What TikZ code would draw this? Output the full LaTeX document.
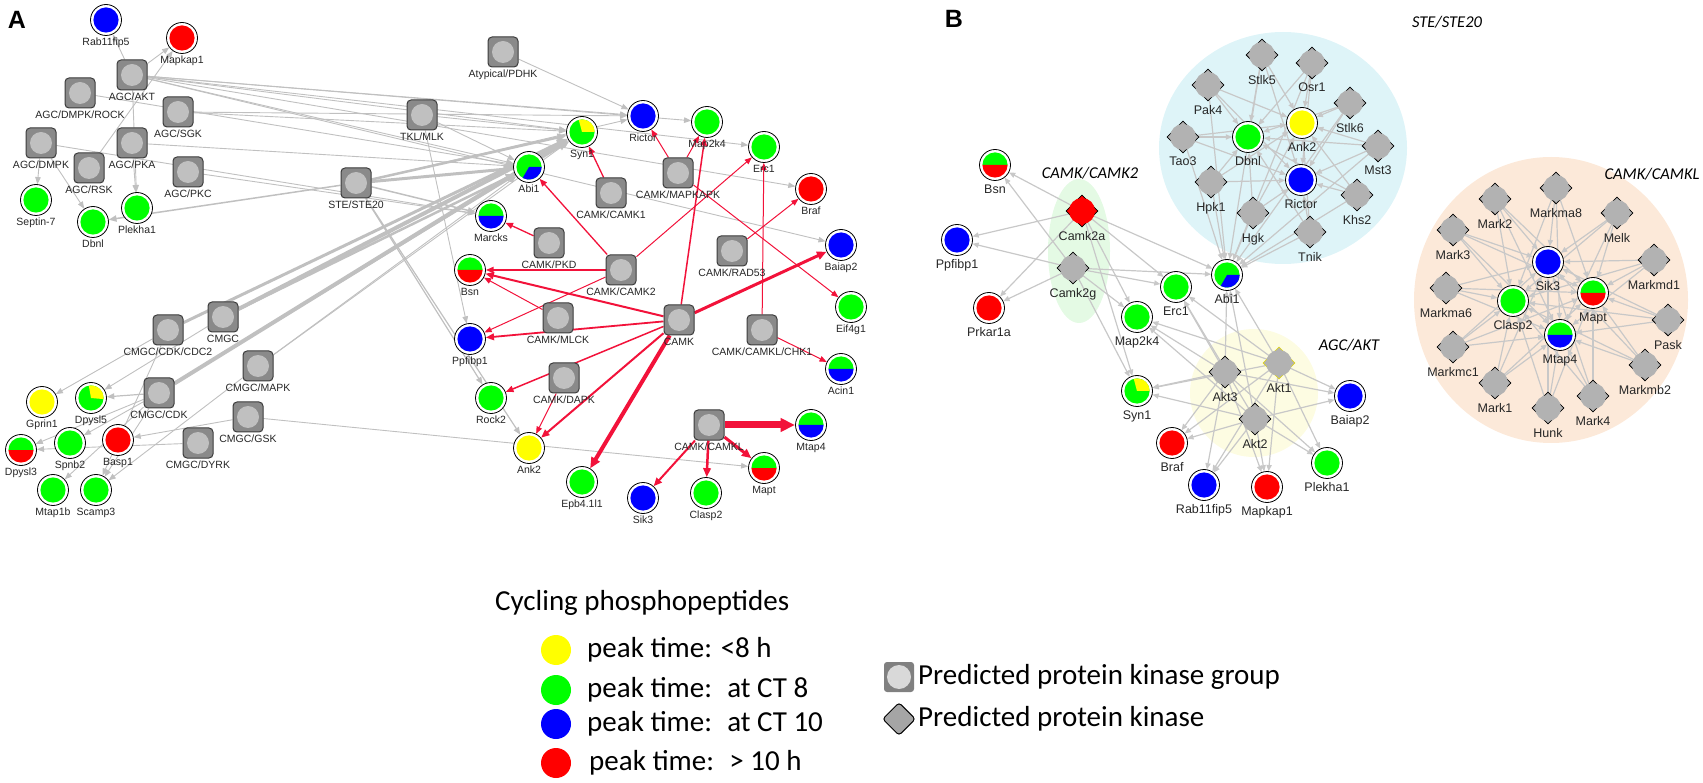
\documentclass[tikz,border=0pt]{standalone}
\usepackage{fontspec}
\setmainfont{Liberation Sans}
\newfontfamily\calibri{Carlito}
\usetikzlibrary{shapes.geometric,arrows.meta}

\definecolor{pyellow}{RGB}{255,255,0}
\definecolor{pgreen}{RGB}{0,255,0}
\definecolor{pblue}{RGB}{0,0,255}
\definecolor{pred}{RGB}{255,0,0}
\definecolor{kfill}{RGB}{138,138,138}
\definecolor{kcirc}{RGB}{192,192,192}
\definecolor{kedge}{RGB}{60,60,60}
\definecolor{dgray}{RGB}{178,178,178}
\definecolor{egray}{RGB}{192,192,192}
\definecolor{bgray}{RGB}{200,200,200}
\definecolor{ered}{RGB}{242,18,58}
\definecolor{steblue}{RGB}{222,244,248}
\definecolor{camkgreen}{RGB}{228,250,228}
\definecolor{aktyellow}{RGB}{253,252,226}
\definecolor{camklorange}{RGB}{252,233,217}
\definecolor{lgrpfill}{RGB}{128,128,128}
\definecolor{lgrpcirc}{RGB}{217,217,217}
\definecolor{lkinfill}{RGB}{165,165,165}

\pgfdeclarelayer{back}
\pgfdeclarelayer{edges}
\pgfsetlayers{back,edges,main}

\begin{document}
\begin{tikzpicture}[x=1pt, y=-1pt, label distance=1pt,
        grp/.style={rectangle, rounded corners=4pt, draw=kedge, line width=1pt, fill=kfill,
            minimum size=30pt, inner sep=0pt,
            path picture={\fill[kcirc] (path picture bounding box.center) circle[radius=11pt];}},
        pep/.style={circle, draw=black, line width=0.8pt, fill=white, minimum size=31pt, inner sep=0pt},
        pepone/.style={pep, path picture={\fill[#1] (path picture bounding box.center) circle[radius=12.6pt];}},
        peptwo/.style 2 args={pep, path picture={
            \fill[#1] (path picture bounding box.center) ++(12.6pt,0pt) arc[start angle=0, end angle=180, radius=12.6pt] -- cycle;
            \fill[#2] (path picture bounding box.center) ++(-12.6pt,0pt) arc[start angle=180, end angle=360, radius=12.6pt] -- cycle;}},
        pepwedge/.style n args={4}{pep, path picture={
            \fill[#1] (path picture bounding box.center) circle[radius=12.6pt];
            \fill[#2] (path picture bounding box.center) -- ++(#3:12.6pt) arc[start angle=#3, end angle=#4, radius=12.6pt] -- cycle;}},
        kin/.style={diamond, draw=black, line width=0.8pt, fill=dgray, minimum size=32pt, inner sep=0pt},
        la/.style={font=\fontsize{10.5}{12}\selectfont, inner sep=1pt, text=black!85},
        lb/.style={font=\fontsize{12.5}{14}\selectfont, inner sep=1pt, text=black!85, yshift=-1.5pt},
        ttl/.style={font=\calibri\itshape\fontsize{16.5}{19}\selectfont, inner sep=0pt},
        leg/.style={font=\calibri\fontsize{29}{34}\selectfont, anchor=west, inner sep=0pt},
        ge/.style={draw=egray, line width=#1, -{Triangle[length=6pt 1.2, width=4.5pt 1.2]}}, ge/.default=0.9pt,
        re/.style={draw=ered, line width=#1, -{Triangle[length=6pt 1.2, width=4.5pt 1.2]}}, re/.default=1pt,
        be/.style={draw=bgray, line width=1.2pt, -{Triangle[length=5pt 1, width=4pt 1]}}]

\useasboundingbox (0,0) rectangle (1703,783);

\node[font=\bfseries\fontsize{25}{30}\selectfont] (pA) at (17,20) {A};
\node[font=\bfseries\fontsize{25}{30}\selectfont] (pB) at (954,19) {B};

% A: predicted kinase groups
\node[grp, label={[la]below:AGC/AKT}] (aakt) at (132,75) {};
\node[grp, label={[la]below:AGC/DMPK/ROCK}] (arock) at (80,93) {};
\node[grp, label={[la]below:AGC/SGK}] (asgk) at (178,112) {};
\node[grp, label={[la]below:AGC/DMPK}] (admpk) at (41,143) {};
\node[grp, label={[la]below:AGC/PKA}] (apka) at (132,143) {};
\node[grp, label={[la]below:AGC/RSK}] (arsk) at (89,168) {};
\node[grp, label={[la]below:AGC/PKC}] (apkc) at (188,172) {};
\node[grp, label={[la]below:TKL/MLK}] (tkl) at (422,115) {};
\node[grp, label={[la]below:STE/STE20}] (ste) at (356,183) {};
\node[grp, label={[la]below:Atypical/PDHK}] (atyp) at (503,52) {};
\node[grp, label={[la]below:CAMK/CAMK1}] (camk1) at (611,193) {};
\node[grp, label={[la]below:CAMK/MAPKAPK}] (mapkapk) at (678,173) {};
\node[grp, label={[la]below:CAMK/PKD}] (pkd) at (549,243) {};
\node[grp, label={[la]below:CAMK/CAMK2}] (camk2) at (621,270) {};
\node[grp, label={[la]below:CAMK/RAD53}] (rad53) at (732,251) {};
\node[grp, label={[la]below:CAMK/MLCK}] (mlck) at (558,318) {};
\node[grp, label={[la]below:CAMK}] (camk) at (679,320) {};
\node[grp, label={[la]below:CAMK/CAMKL/CHK1}] (chk1) at (762,330) {};
\node[grp, label={[la]below:CAMK/DAPK}] (dapk) at (564,378) {};
\node[grp, label={[la]below:CAMK/CAMKL}] (camkl) at (709,425) {};
\node[grp, label={[la]below:CMGC/CDK/CDC2}] (cdc2) at (168,330) {};
\node[grp, label={[la]below:CMGC}] (cmgc) at (223,317) {};
\node[grp, label={[la]below:CMGC/MAPK}] (mapk) at (258,366) {};
\node[grp, label={[la]below:CMGC/CDK}] (cdk) at (159,393) {};
\node[grp, label={[la]below:CMGC/GSK}] (gsk) at (248,417) {};
\node[grp, label={[la]below:CMGC/DYRK}] (dyrk) at (198,443) {};

% A: cycling phosphopeptides
\node[pepone=pblue, label={[la]below:Rab11fip5}] (rabA) at (106,20) {};
\node[pepone=pred, label={[la]below:Mapkap1}] (mapkapA) at (182,38) {};
\node[pepone=pgreen, label={[la]below:Septin-7}] (septin) at (36,200) {};
\node[pepone=pgreen, label={[la]below:Dbnl}] (dbnlA) at (93,222) {};
\node[pepone=pgreen, label={[la]below:Plekha1}] (plekhaA) at (137,208) {};
\node[pepone=pblue, label={[la]below:Rictor}] (rictorA) at (643,116) {};
\node[pepone=pgreen, label={[la]below:Map2k4}] (map2k4A) at (707,122) {};
\node[pepwedge={pgreen}{pyellow}{0}{105}, label={[la]below:Syn1}] (syn1A) at (582,132) {};
\node[pepone=pgreen, label={[la]below:Erc1}] (erc1A) at (764,147) {};
\node[pepwedge={pgreen}{pblue}{-120}{0}, label={[la]below:Abi1}] (abi1A) at (529,167) {};
\node[peptwo={pgreen}{pblue}, label={[la]below:Marcks}] (marcksA) at (491,216) {};
\node[pepone=pred, label={[la]below:Braf}] (brafA) at (811,189) {};
\node[pepone=pblue, label={[la]below:Baiap2}] (baiap2A) at (841,245) {};
\node[peptwo={pgreen}{pred}, label={[la]below:Bsn}] (bsnA) at (470,270) {};
\node[pepone=pblue, label={[la]below:Ppfibp1}] (ppfibpA) at (470,339) {};
\node[pepone=pgreen, label={[la]below:Eif4g1}] (eif4g1) at (851,307) {};
\node[peptwo={pgreen}{pblue}, label={[la]below:Acin1}] (acin1) at (841,369) {};
\node[pepone=pgreen, label={[la]below:Rock2}] (rock2) at (491,398) {};
\node[pepone=pyellow, label={[la]below:Ank2}] (ank2A) at (529,448) {};
\node[peptwo={pgreen}{pblue}, label={[la]below:Mtap4}] (mtap4A) at (811,425) {};
\node[peptwo={pgreen}{pred}, label={[la]below:Mapt}] (maptA) at (764,468) {};
\node[pepone=pgreen, label={[la]below:Epb4.1l1}] (epb) at (582,482) {};
\node[pepone=pblue, label={[la]below:Sik3}] (sik3A) at (643,498) {};
\node[pepone=pgreen, label={[la]below:Clasp2}] (clasp2A) at (706,493) {};
\node[pepone=pyellow, label={[la]below:Gprin1}] (gprin1) at (42,402) {};
\node[pepwedge={pgreen}{pyellow}{-5}{100}, label={[la]below:Dpysl5}] (dpysl5) at (91,398) {};
\node[peptwo={pgreen}{pred}, label={[la]below:Dpysl3}] (dpysl3) at (21,450) {};
\node[pepone=pgreen, label={[la]below:Spnb2}] (spnb2) at (70,443) {};
\node[pepone=pred, label={[la]below:Basp1}] (basp1) at (118,440) {};
\node[pepone=pgreen, label={[la]below:Mtap1b}] (mtap1b) at (53,490) {};
\node[pepone=pgreen, label={[la]below:Scamp3}] (scamp3) at (96,490) {};

% B: kinase families
\begin{pgfonlayer}{back}
\fill[steblue] (1283,148) ellipse[x radius=124, y radius=116];
\fill[camkgreen] (1079,251) ellipse[x radius=31, y radius=72];
\fill[aktyellow] (1254,393) circle[radius=64];
\fill[camklorange] (1551,300) ellipse[x radius=137, y radius=143];
\end{pgfonlayer}
\node[ttl] (tste) at (1447,22) {STE/STE20};
\node[ttl] (tcamk2) at (1090,173) {CAMK/CAMK2};
\node[ttl] (takt) at (1349,345) {AGC/AKT};
\node[ttl] (tcamkl) at (1652,174) {CAMK/CAMKL};

% B: predicted kinases
\node[kin, label={[lb]below:Stlk5}] (stlk5) at (1262,55) {};
\node[kin, label={[lb]below:Osr1}] (osr1) at (1312,63) {};
\node[kin, label={[lb]below:Pak4}] (pak4) at (1208,85) {};
\node[kin, label={[lb]below:Tao3}] (tao3) at (1183,137) {};
\node[kin, label={[lb]below:Hpk1}] (hpk1) at (1211,182) {};
\node[kin, label={[lb]below:Hgk}] (hgk) at (1253,213) {};
\node[kin, label={[lb]below:Stlk6}] (stlk6) at (1350,103) {};
\node[kin, label={[lb]below:Mst3}] (mst3) at (1378,146) {};
\node[kin, label={[lb]below:Khs2}] (khs2) at (1357,195) {};
\node[kin, label={[lb]below:Tnik}] (tnik) at (1310,232) {};
\node[kin, fill=pred, label={[lb]below:Camk2a}] (camk2a) at (1082,211) {};
\node[kin, label={[lb]below:Camk2g}] (camk2g) at (1073,268) {};
\node[kin, label={[lb]below:Akt3}] (akt3) at (1225,372) {};
\node[kin, draw=yellow!85!black, label={[lb]below:Akt1}] (akt1) at (1279,363) {};
\node[kin, label={[lb]below:Akt2}] (akt2) at (1255,419) {};
\node[kin, label={[lb]below:Markma8}] (markma8) at (1556,188) {};
\node[kin, label={[lb]below:Mark2}] (mark2) at (1495,199) {};
\node[kin, label={[lb]below:Melk}] (melk) at (1617,213) {};
\node[kin, label={[lb]below:Mark3}] (mark3) at (1453,230) {};
\node[kin, label={[lb]below:Markmd1}] (markmd1) at (1654,260) {};
\node[kin, label={[lb]below:Markma6}] (markma6) at (1446,288) {};
\node[kin, label={[lb]below:Pask}] (pask) at (1668,320) {};
\node[kin, label={[lb]below:Markmc1}] (markmc1) at (1453,347) {};
\node[kin, label={[lb]below:Markmb2}] (markmb2) at (1645,365) {};
\node[kin, label={[lb]below:Mark1}] (mark1) at (1495,383) {};
\node[kin, label={[lb]below:Mark4}] (mark4) at (1593,396) {};
\node[kin, label={[lb]below:Hunk}] (hunk) at (1548,408) {};
\foreach \kn in {stlk5,osr1,pak4,tao3,hpk1,hgk,stlk6,mst3,khs2,tnik,camk2g,akt1,akt2,akt3,
        markma8,mark2,melk,mark3,markmd1,markma6,pask,markmc1,markmb2,mark1,mark4,hunk}
    \fill[dgray] (\kn.center) circle[radius=13pt];
\fill[pred] (camk2a.center) circle[radius=13pt];

% B: cycling phosphopeptides
\node[peptwo={pgreen}{pred}, label={[lb]below:Bsn}] (bsnB) at (995,165) {};
\node[pepone=pblue, label={[lb]below:Ppfibp1}] (ppfibpB) at (957,240) {};
\node[pepone=pred, label={[lb]below:Prkar1a}] (prkar) at (989,308) {};
\node[pepone=pgreen, label={[lb]below:Dbnl}] (dbnlB) at (1248,137) {};
\node[pepone=pyellow, label={[lb]below:Ank2}] (ank2B) at (1302,123) {};
\node[pepone=pblue, label={[lb]below:Rictor}] (rictorB) at (1301,180) {};
\node[pepwedge={pgreen}{pblue}{-120}{0}, label={[lb]below:Abi1}] (abi1B) at (1227,275) {};
\node[pepone=pgreen, label={[lb]below:Erc1}] (erc1B) at (1176,287) {};
\node[pepone=pgreen, label={[lb]below:Map2k4}] (map2k4B) at (1137,317) {};
\node[pepwedge={pgreen}{pyellow}{0}{105}, label={[lb]below:Syn1}] (syn1B) at (1137,391) {};
\node[pepone=pred, label={[lb]below:Braf}] (brafB) at (1172,443) {};
\node[pepone=pblue, label={[lb]below:Rab11fip5}] (rabB) at (1204,485) {};
\node[pepone=pred, label={[lb]below:Mapkap1}] (mapkapB) at (1267,487) {};
\node[pepone=pgreen, label={[lb]below:Plekha1}] (plekhaB) at (1327,463) {};
\node[pepone=pblue, label={[lb]below:Baiap2}] (baiap2B) at (1350,396) {};
\node[pepone=pblue, label={[lb]below:Sik3}] (sik3B) at (1548,262) {};
\node[peptwo={pgreen}{pred}, label={[lb]below:Mapt}] (maptB) at (1593,293) {};
\node[pepone=pgreen, label={[lb]below:Clasp2}] (clasp2B) at (1513,301) {};
\node[peptwo={pgreen}{pblue}, label={[lb]below:Mtap4}] (mtap4B) at (1560,335) {};

% connectors
\begin{pgfonlayer}{edges}
\foreach \src/\dst/\wd in {aakt/mapkapA/0.9, aakt/rabA/0.9, aakt/plekhaA/0.9, aakt/rictorA/0.9,
        aakt/syn1A/0.9, aakt/abi1A/0.9, aakt/map2k4A/0.9, aakt/erc1A/0.9, aakt/brafA/0.9,
        aakt/baiap2A/0.9, arsk/mapkapA/0.9, admpk/septin/0.9, admpk/dbnlA/0.9, admpk/marcksA/0.9,
        arock/abi1A/0.9, asgk/rictorA/0.9, asgk/syn1A/0.9, apka/plekhaA/0.9, apka/abi1A/0.9,
        apkc/marcksA/0.9, tkl/abi1A/0.9, tkl/syn1A/0.9, tkl/ppfibpA/0.9,
        ste/abi1A/3, ste/syn1A/2.5, ste/rictorA/0.9, ste/dbnlA/1.5, ste/marcksA/1.5,
        ste/rock2/1.2, ste/ank2A/1.2, atyp/rictorA/0.9,
        cdc2/gprin1/0.9, cdc2/syn1A/3, cdc2/scamp3/0.9, cmgc/syn1A/4, cmgc/abi1A/2.5,
        cmgc/dpysl5/0.9, cdk/dpysl5/1.2, cdk/dpysl3/0.9, cdk/spnb2/0.9, cdk/mtap1b/0.9,
        cdk/scamp3/0.9, cdk/syn1A/4, cdk/abi1A/1.5, mapk/abi1A/0.9, mapk/scamp3/0.9,
        mapk/syn1A/0.9, gsk/basp1/0.9, gsk/maptA/0.9, dyrk/dpysl3/0.9}
    \draw[ge=\wd pt] (\src) -- (\dst);
\foreach \src/\dst/\wd in {camk1/syn1A/1.3, mapkapk/rictorA/1, mapkapk/map2k4A/1, mapkapk/eif4g1/1,
        pkd/marcksA/1.3, mlck/bsnA/1, camk2/bsnA/1.5, camk2/ppfibpA/1, camk2/abi1A/1.3,
        camk2/erc1A/1, rad53/brafA/1, camk/bsnA/2, camk/ppfibpA/1.8, camk/rock2/1.5,
        camk/ank2A/2, camk/epb/4, camk/baiap2A/3, camk/map2k4A/1.5, chk1/acin1/1,
        chk1/erc1A/1, dapk/ank2A/1, camkl/mtap4A/7, camkl/maptA/3, camkl/clasp2A/2.5,
        camkl/sik3A/2}
    \draw[re=\wd pt] (\src) -- (\dst);

\foreach \kn in {stlk5,osr1,pak4,tao3,hpk1,hgk,stlk6,mst3,khs2,tnik}
    \foreach \dst in {dbnlB,ank2B,rictorB,abi1B}
        \draw[be] (\kn) -- (\dst);
\foreach \kn in {camk2a,camk2g}
    \foreach \dst in {bsnB,ppfibpB,prkar,erc1B,abi1B,map2k4B,syn1B}
        \draw[be] (\kn) -- (\dst);
\foreach \kn in {akt1,akt2,akt3}
    \foreach \dst in {syn1B,map2k4B,erc1B,abi1B,brafB,rabB,mapkapB,plekhaB,baiap2B}
        \draw[be] (\kn) -- (\dst);
\foreach \kn in {markma8,mark2,melk,mark3,markmd1,markma6,pask,markmc1,markmb2,mark1,mark4,hunk}
    \foreach \dst in {sik3B,maptB,clasp2B,mtap4B}
        \draw[be] (\kn) -- (\dst);
\end{pgfonlayer}

% legend
\node[leg] (ltitle) at (495,603) {Cycling phosphopeptides};
\node[circle, fill=pyellow, minimum size=30pt, inner sep=0pt] (ly) at (556,650) {};
\node[circle, fill=pgreen, minimum size=30pt, inner sep=0pt] (lg) at (556,690) {};
\node[circle, fill=pblue, minimum size=30pt, inner sep=0pt] (lbl) at (556,724) {};
\node[circle, fill=pred, minimum size=30pt, inner sep=0pt] (lr) at (556,763) {};
\node[leg] (lyt) at (587,650) {peak time: <8 h};
\node[leg] (lgt) at (587,690) {peak time:~ at CT 8};
\node[leg] (lbt) at (587,724) {peak time:~ at CT 10};
\node[leg] (lrt) at (589,763) {peak time:~ > 10 h};
\node[rectangle, rounded corners=3pt, fill=lgrpfill, minimum size=30pt, inner sep=0pt,
      path picture={\fill[lgrpcirc] (path picture bounding box.center) circle[radius=12pt];}] (lgrp) at (899,677) {};
\node[diamond, rounded corners=3pt, draw=black, line width=1pt, fill=lkinfill, minimum size=33pt, inner sep=0pt] (lkin) at (899,719) {};
\node[leg] (lgrpt) at (918,677) {Predicted protein kinase group};
\node[leg] (lkint) at (918,719) {Predicted protein kinase};
\end{tikzpicture}
\end{document}
